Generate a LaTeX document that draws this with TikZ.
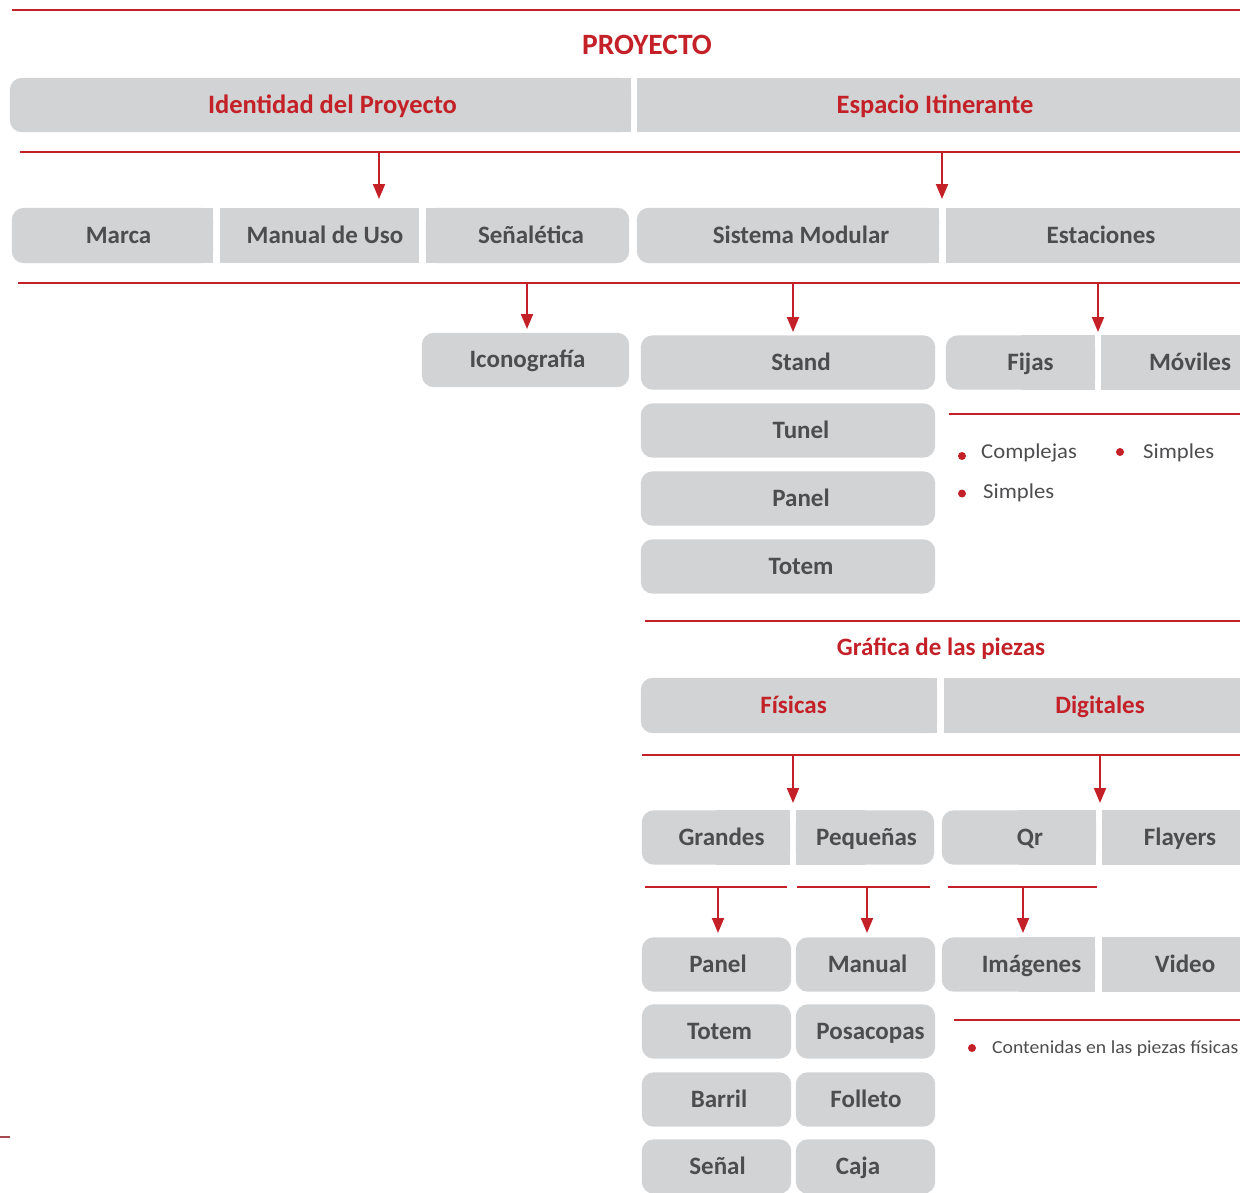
\documentclass[tikz,border=0pt]{standalone}
\usepackage{fontspec}
\setmainfont{Carlito}
\newfontfamily\cf{Carlito}
\newfontfamily\cw[FakeStretch=1.07]{Carlito}
\usetikzlibrary{arrows.meta,backgrounds,calc}
\definecolor{rd}{RGB}{196,32,40}
\definecolor{bx}{RGB}{209,211,212}
\definecolor{tx}{RGB}{77,77,79}
\newcommand\bxL[1]{\fill[bx,rounded corners=12pt] (#1.south west) rectangle (#1.north east); \fill[bx] (#1.south) rectangle (#1.north east);}
\newcommand\bxR[1]{\fill[bx,rounded corners=12pt] (#1.south west) rectangle (#1.north east); \fill[bx] (#1.south west) rectangle (#1.north);}
\newcommand\bxA[1]{\fill[bx,rounded corners=12pt] (#1.south west) rectangle (#1.north east);}
\newcommand\bxN[1]{\fill[bx] (#1.south west) rectangle (#1.north east);}
\tikzset{
 lbl/.style={text=tx, font=\cf\bfseries\fontsize{25}{27}\selectfont, minimum height=54pt, inner sep=0pt, text height=15.8pt, text depth=0pt, anchor=center},
 rlbl/.style={lbl, text=rd},
 bigred/.style={rlbl, font=\cf\bfseries\fontsize{26.5}{28}\selectfont, text height=16.8pt},
 tdx/.style={execute at begin node={\hspace*{#1pt}}},
 ttl/.style={text=rd, font=\cf\bfseries\fontsize{29.5}{31}\selectfont, inner sep=0pt, text height=18.6pt, text depth=0pt},
 rline/.style={draw=rd, line width=2pt},
 arr/.style={rline, -{Triangle[length=15pt,width=12pt]}},
 bul/.style={font=\cw\fontsize{21.2}{23}\selectfont, text=tx, anchor=west, inner sep=0pt, text height=13.4pt, text depth=0pt},
 bulsm/.style={bul, font=\cw\fontsize{18.4}{20}\selectfont, text height=11.6pt},
 dot/.style={circle, fill=rd, inner sep=0pt, minimum size=8pt},
}
\begin{document}
\begin{tikzpicture}[x=1pt,y=-1pt]
\useasboundingbox (0,0) rectangle (1240,1192);
\clip (0,0) rectangle (1240,1192);
% titles
\node[ttl] (proy) at (647,45) {PROYECTO};
\node[rlbl] (graf) at (941,648) {Gráfica de las piezas};
% row 1
\node[bigred, minimum width=621pt, tdx=24] (ident) at (320.5,105) {Identidad del Proyecto};
\node[bigred, minimum width=606pt, tdx=-10] (espacio) at (940,105) {Espacio Itinerante};
% row 2
\node[lbl, minimum width=201pt, minimum height=55pt, tdx=12] (marca) at (112.5,235.5) {Marca};
\node[lbl, minimum width=199pt, minimum height=55pt, tdx=11] (manual) at (319.5,235.5) {Manual de Uso};
\node[lbl, minimum width=203pt, minimum height=55pt, tdx=7] (senal) at (527.5,235.5) {Señalética};
\node[lbl, minimum width=302pt, minimum height=55pt, tdx=26] (sistema) at (788,235.5) {Sistema Modular};
\node[lbl, minimum width=310pt, minimum height=55pt] (estac) at (1101,235.5) {Estaciones};
% row 3
\node[lbl, minimum width=207pt, tdx=4] (icono) at (525.5,360) {Iconografía};
\node[lbl, minimum width=294pt, tdx=26] (stand) at (788,362.5) {Stand};
\node[lbl, minimum width=294pt, tdx=26] (tunel) at (788,430.5) {Tunel};
\node[lbl, minimum width=294pt, tdx=26] (panelA) at (788,498.5) {Panel};
\node[lbl, minimum width=294pt, tdx=26] (totemA) at (788,566.5) {Totem};
\node[lbl, minimum width=149pt, tdx=20] (fijas) at (1020.5,362.5) {Fijas};
\node[lbl, minimum width=178pt] (moviles) at (1190,362.5) {Móviles};
% bullets
\node[dot] (d1) at (962,456) {};
\node[bul] (b1) at (981,451.5) {Complejas};
\node[dot] (d2) at (1120,452) {};
\node[bul] (b2) at (1143,452) {Simples};
\node[dot] (d3) at (962,493.5) {};
\node[bul] (b3) at (983,492) {Simples};
% grafica
\node[rlbl, minimum width=296pt, minimum height=55pt, tdx=9] (fisicas) at (789,705.5) {Físicas};
\node[rlbl, minimum width=312pt, minimum height=55pt] (digitales) at (1100,705.5) {Digitales};
\node[lbl, minimum width=148pt, tdx=11] (grandes) at (716,837.5) {Grandes};
\node[lbl, minimum width=138pt, tdx=3] (pequenas) at (865,837.5) {Pequeñas};
\node[lbl, minimum width=154pt, tdx=22] (qr) at (1019,837.5) {Qr};
\node[lbl, minimum width=156pt] (flayers) at (1180,837.5) {Flayers};
\node[lbl, minimum width=149pt, tdx=3] (panelB) at (716.5,964.5) {Panel};
\node[lbl, minimum width=139pt, tdx=4] (manualB) at (865.5,964.5) {Manual};
\node[lbl, minimum width=153pt, tdx=26] (imagenes) at (1018.5,964.5) {Imágenes};
\node[lbl, minimum width=166pt] (video) at (1185,964.5) {Video};
\node[lbl, minimum width=149pt, tdx=6] (totemB) at (716.5,1031.5) {Totem};
\node[lbl, minimum width=139pt, tdx=10] (posa) at (865.5,1031.5) {Posacopas};
\node[lbl, minimum width=149pt, tdx=5] (barril) at (716.5,1099.5) {Barril};
\node[lbl, minimum width=139pt, tdx=1] (folleto) at (865.5,1099.5) {Folleto};
\node[lbl, minimum width=149pt, tdx=2] (senalB) at (716.5,1166.5) {Señal};
\node[lbl, minimum width=139pt, tdx=-15] (caja) at (865.5,1166.5) {Caja};
\node[dot] (d4) at (972,1048) {};
\node[bulsm] (b4) at (992,1048) {Contenidas en las piezas físicas};
% box backgrounds
\begin{scope}[on background layer]
\bxL{ident} \bxN{espacio}
\bxL{marca} \bxN{manual} \bxR{senal} \bxL{sistema} \bxN{estac}
\bxA{icono} \bxA{stand} \bxA{tunel} \bxA{panelA} \bxA{totemA}
\bxL{fijas} \bxN{moviles}
\bxL{fisicas} \bxN{digitales}
\bxL{grandes} \bxR{pequenas} \bxL{qr} \bxN{flayers}
\bxA{panelB} \bxA{manualB} \bxL{imagenes} \bxN{video}
\bxA{totemB} \bxA{posa} \bxA{barril} \bxA{folleto} \bxA{senalB} \bxA{caja}
\end{scope}
% horizontal rules
\coordinate (l0a) at (12,10);   \coordinate (l0b) at (1240,10);
\coordinate (l1a) at (20,152);  \coordinate (l1b) at (1240,152);
\coordinate (l2a) at (18,283);  \coordinate (l2b) at (1240,283);
\coordinate (l3a) at (949,414); \coordinate (l3b) at (1240,414);
\coordinate (l4a) at (645,621); \coordinate (l4b) at (1240,621);
\coordinate (l5a) at (642,755); \coordinate (l5b) at (1240,755);
\coordinate (l6a) at (645,887); \coordinate (l6b) at (787,887);
\coordinate (l6c) at (797,887); \coordinate (l6d) at (930,887);
\coordinate (l6e) at (948,887); \coordinate (l6f) at (1097,887);
\coordinate (l7a) at (954,1020);\coordinate (l7b) at (1240,1020);
\coordinate (l8a) at (0,1137);  \coordinate (l8b) at (10,1137);
\draw[rline] (l0a) -- (l0b);
\draw[rline] (l1a) -- (l1b);
\draw[rline] (l2a) -- (l2b);
\draw[rline] (l3a) -- (l3b);
\draw[rline] (l4a) -- (l4b);
\draw[rline] (l5a) -- (l5b);
\draw[rline] (l6a) -- (l6b);
\draw[rline] (l6c) -- (l6d);
\draw[rline] (l6e) -- (l6f);
\draw[rline] (l7a) -- (l7b);
\draw[draw=rd!55!gray, line width=2pt] (l8a) -- (l8b);
% arrows
\coordinate (s1) at (379,152);  \coordinate (e1) at (379,199);
\coordinate (s2) at (942,152);  \coordinate (e2) at (942,199);
\coordinate (s3) at (527,283);  \coordinate (e3) at (527,329);
\coordinate (s4) at (793,283);  \coordinate (e4) at (793,332);
\coordinate (s5) at (1098,283); \coordinate (e5) at (1098,332);
\coordinate (s6) at (793,755);  \coordinate (e6) at (793,803);
\coordinate (s7) at (1100,755); \coordinate (e7) at (1100,803);
\coordinate (s8) at (718,887);  \coordinate (e8) at (718,933);
\coordinate (s9) at (867,887);  \coordinate (e9) at (867,933);
\coordinate (s10) at (1023,887);\coordinate (e10) at (1023,933);
\foreach \i in {1,...,10} { \draw[arr] (s\i) -- (e\i); }
\end{tikzpicture}
\end{document}
